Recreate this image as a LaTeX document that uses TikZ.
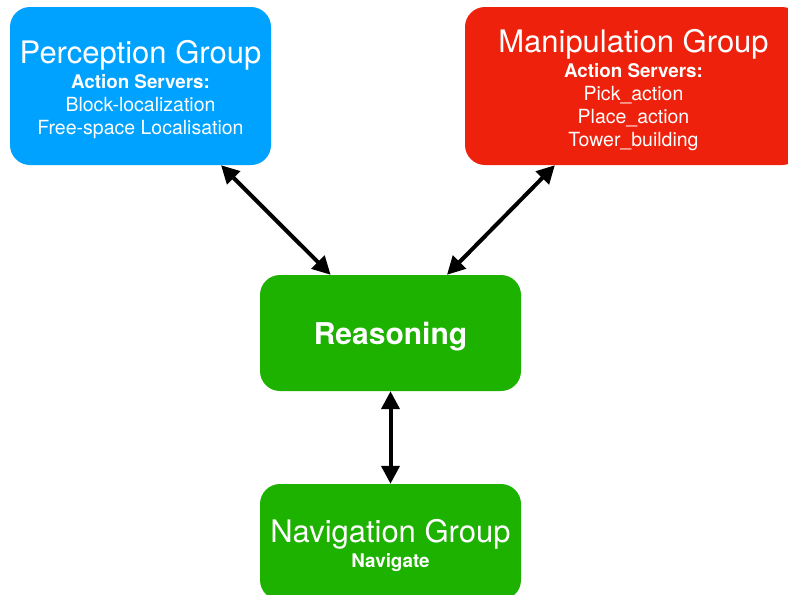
\documentclass[tikz,border=0pt]{standalone}
\usepackage{fontspec}
\setmainfont{TeX Gyre Heros}
\usetikzlibrary{arrows.meta,calc}
\definecolor{cblue}{HTML}{00A2FF}
\definecolor{cred}{HTML}{EE220C}
\definecolor{cgreen}{HTML}{1DB100}
\newcommand{\ttlfont}{\fontsize{31}{31}\selectfont\rule{0pt}{31pt}}
\newcommand{\hdfont}{\fontsize{18.8}{23}\selectfont\bfseries}
\begin{document}
\begin{tikzpicture}[x=1pt,y=-1pt,
  box/.style={rounded corners=20pt, inner sep=0pt, text=white, align=center,
    font=\fontsize{19.5}{23}\selectfont},
  conn/.style={line width=4pt, {Triangle[length=18pt,width=18pt]}-{Triangle[length=18pt,width=18pt]}}]
\useasboundingbox (0,0) rectangle (788,595);
\clip (0,0) rectangle (788,595);
\node[box, fill=cblue, minimum width=261pt, minimum height=158pt] (perc) at (140.5,86)
  {{\ttlfont Perception Group}\\[2pt]
   {\hdfont Action Servers:}\\
   Block-localization\\
   Free-space Localisation};
\node[box, fill=cred, minimum width=337pt, minimum height=158pt] (manip) at (633.5,86)
  {{\ttlfont Manipulation Group}\\[2pt]
   {\hdfont Action Servers:}\\
   Pick\_action\\
   Place\_action\\
   Tower\_building};
\node[box, fill=cgreen, minimum width=261pt, minimum height=116pt] (reas) at (390.5,333)
  {\fontsize{30}{30}\selectfont\bfseries\rule{0pt}{30pt}Reasoning};
\node[box, fill=cgreen, minimum width=261pt, minimum height=116pt] (nav) at (390.5,542)
  {{\ttlfont Navigation Group}\\[2pt]
   {\hdfont Navigate}};
\coordinate (p1) at ($(perc.south west)!0.808!(perc.south east)$);
\coordinate (r1) at ($(reas.north west)!0.271!(reas.north east)$);
\coordinate (m1) at ($(manip.south west)!0.267!(manip.south east)$);
\coordinate (r2) at ($(reas.north west)!0.716!(reas.north east)$);
\draw[conn] (p1) -- (r1);
\draw[conn] (m1) -- (r2);
\draw[conn] (reas.south) -- (nav.north);
\end{tikzpicture}
\end{document}
